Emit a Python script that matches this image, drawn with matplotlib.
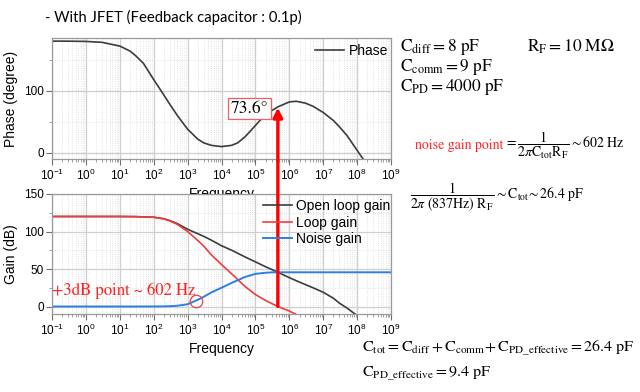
import numpy as np
import matplotlib
matplotlib.use('Agg')
import matplotlib.pyplot as plt
from matplotlib.ticker import LogLocator, MultipleLocator, NullFormatter

plt.rcParams['font.family'] = ['Liberation Sans', 'DejaVu Sans']
plt.rcParams['mathtext.fontset'] = 'stix'

# phase curve
phase_freq = [0.1, 0.3, 1, 3, 10, 20, 30, 50, 100, 200, 300, 500, 1e3, 2e3, 3e3, 5e3,
              1e4, 2e4, 3e4, 5e4, 1e5, 2e5, 4.6e5, 1e6, 1.6e6, 3e6, 5e6, 1e7, 2e7,
              3e7, 5e7, 1e8, 1.5e8]
phase_deg = [180, 179.9, 179.5, 178, 172, 164, 156, 144, 118, 93, 78, 60, 38, 22, 16, 12,
             10, 12, 16, 26, 44, 62, 74, 82, 83, 80, 75, 65, 52, 42, 28, 4, -10]

# gain curves (dB)
ol_freq = [0.1, 1, 10, 30, 100, 200, 300, 500, 1e3, 2e3, 3e3, 5e3, 1e4, 2e4, 3e4, 5e4,
           1e5, 2e5, 3e5, 4.6e5, 1e6, 2e6, 5e6, 1e7, 2e7, 3e7, 5e7, 8.7e7]
open_loop = [120, 120, 120, 119.8, 119, 117, 114.5, 110.5, 103, 97, 93.5, 88.5, 81, 75, 71,
             66, 59.5, 53, 49.5, 45.6, 38.5, 32.5, 25, 19, 11, 4.5, -2, -10]

loop_freq = [0.1, 1, 10, 30, 100, 200, 300, 500, 1e3, 2e3, 3e3, 5e3, 1e4, 2e4, 3e4, 5e4,
             1e5, 2e5, 3e5, 4.6e5, 1e6, 1.5e6]
loop_gain = [120, 120, 120, 119.8, 119, 116.8, 114.1, 109.5, 100, 88, 80.5, 69, 56, 43.5,
             36, 26.5, 16, 8, 4, 0, -6, -10]

noise_freq = [0.1, 1, 10, 30, 100, 200, 300, 500, 1e3, 2e3, 3e3, 5e3, 1e4, 2e4, 3e4, 5e4,
              1e5, 2e5, 3e5, 4.6e5, 1e6, 1e7, 1e8, 1e9]
noise_gain = [0, 0, 0, 0, 0.05, 0.2, 0.4, 1, 3, 9, 13, 18.7, 25, 31.5, 35, 39.5,
              43.5, 45, 45.5, 45.6, 45.6, 45.6, 45.6, 45.6]

crossover_freq = 4.6e5
phase_margin = 73.6
corner_freq = 1.8e3
corner_gain = 8


def style_axes(ax):
    ax.set_xscale('log')
    ax.set_xlim(0.1, 1e9)
    ax.xaxis.set_major_locator(LogLocator(base=10, numticks=20))
    ax.xaxis.set_minor_locator(LogLocator(base=10, subs=np.arange(2, 10), numticks=200))
    ax.xaxis.set_minor_formatter(NullFormatter())
    ax.grid(which='major', color='#cfcfcf', lw=0.9)
    ax.grid(which='minor', color='#dcdcdc', lw=0.6, ls=':')
    ax.set_axisbelow(True)
    for s in ax.spines.values():
        s.set_color('#9a9a9a')
        s.set_linewidth(0.9)
    ax.tick_params(which='major', direction='out', length=4, color='#707070',
                   labelsize=8.5, pad=2)
    ax.tick_params(which='minor', direction='out', length=2, color='#909090')
    ax.set_xlabel('Frequency', fontsize=10, labelpad=3)


fig = plt.figure(figsize=(6.4, 3.92), dpi=100)
ax1 = fig.add_axes([52 / 640, 1 - 159 / 392, 339 / 640, 121 / 392])
ax2 = fig.add_axes([52 / 640, 1 - 314 / 392, 339 / 640, 120 / 392])

# Phase plot
style_axes(ax1)
ax1.plot(phase_freq, phase_deg, color='#3c3c3c', lw=1.2, label='Phase')
ax1.set_ylim(-10, 185)
ax1.set_yticks([0, 100])
ax1.yaxis.set_minor_locator(MultipleLocator(50))
ax1.set_ylabel('Phase (degree)', fontsize=10, labelpad=4)
ax1.legend(loc='upper left', bbox_to_anchor=(0.776, 0.95), frameon=False, fontsize=10,
           handlelength=2.1, handletextpad=0.3, borderpad=0, borderaxespad=0)
ax1.text(6.7e4, 71, f'{phase_margin}°', family='STIXGeneral', fontsize=12.5,
         ha='center', va='center',
         bbox=dict(boxstyle='square,pad=0.15', fc='white', ec='#f06060', lw=0.9))

# Gain plot
style_axes(ax2)
ax2.plot(ol_freq, open_loop, color='#3c3c3c', lw=1.2, label='Open loop gain')
ax2.plot(loop_freq, loop_gain, color='#f03c3c', lw=1.2, label='Loop gain')
ax2.plot(noise_freq, noise_gain, color='#2e7fe0', lw=1.4, label='Noise gain')
ax2.set_ylim(-10, 150)
ax2.set_yticks([0, 50, 100, 150])
ax2.yaxis.set_minor_locator(MultipleLocator(25))
ax2.set_ylabel('Gain (dB)', fontsize=10, labelpad=4)
ax2.legend(loc='upper left', bbox_to_anchor=(0.622, 0.958), frameon=False, fontsize=10,
           handlelength=2.1, handletextpad=0.3, labelspacing=0.18, borderpad=0,
           borderaxespad=0)
ax2.plot([corner_freq], [corner_gain], 'o', ms=9, mfc='none', mec='#f04040', mew=0.9)
ax2.text(0.1, 21.5, '+3dB point ~ 602 Hz', family='STIXGeneral', fontsize=12,
         color='#ff2020', ha='left', va='center')

# red arrow from 0 dB crossover up to the phase curve
ax2.annotate('', xy=(crossover_freq, phase_margin - 1), xycoords=ax1.transData,
             xytext=(crossover_freq, 0), textcoords='data',
             arrowprops=dict(arrowstyle='-|>,head_length=0.55,head_width=0.28',
                             color='#ff0000', lw=2.4, shrinkA=0, shrinkB=0),
             annotation_clip=False)

# equations on the right
def ftext(x, y, s, **kw):
    kw.setdefault('fontsize', 12.5)
    fig.text(x / 640, 1 - y / 392, s, va='center', ha='left', **kw)

fig.text(45 / 640, 1 - 17 / 392, '- With JFET (Feedback capacitor : 0.1p)',
         fontsize=10.7, family='Lato', va='center', ha='left')

ftext(400, 47, r'$\mathrm{C_{diff}} = 8\ \mathrm{pF}$')
ftext(527, 47, r'$\mathrm{R_{F}} = 10\ \mathrm{M\Omega}$')
ftext(400, 67, r'$\mathrm{C_{comm}} = 9\ \mathrm{pF}$')
ftext(400, 87, r'$\mathrm{C_{PD}} = 4000\ \mathrm{pF}$')

ftext(415, 145, 'noise gain point', family='STIXGeneral', color='#ff2020', fontsize=10)
ftext(504, 145, r'$= \dfrac{1}{2\pi \mathrm{C_{tot}R_{F}}} \sim 602\ \mathrm{Hz}$', fontsize=10)
ftext(410, 197, r'$\dfrac{1}{2\pi\ (837\mathrm{Hz})\ \mathrm{R_F}} \sim \mathrm{C_{tot}}\!\sim 26.4\ \mathrm{pF}$',
      fontsize=10)

ftext(362, 348, r'$\mathrm{C_{tot}} = \mathrm{C_{diff}} + \mathrm{C_{comm}}\!+ \mathrm{C_{PD\_effective}} = 26.4\ \mathrm{pF}$',
      fontsize=11.5)
ftext(362, 374, r'$\mathrm{C_{PD\_effective}} = 9.4\ \mathrm{pF}$', fontsize=11.5)

fig.savefig('out.png', dpi=100)
